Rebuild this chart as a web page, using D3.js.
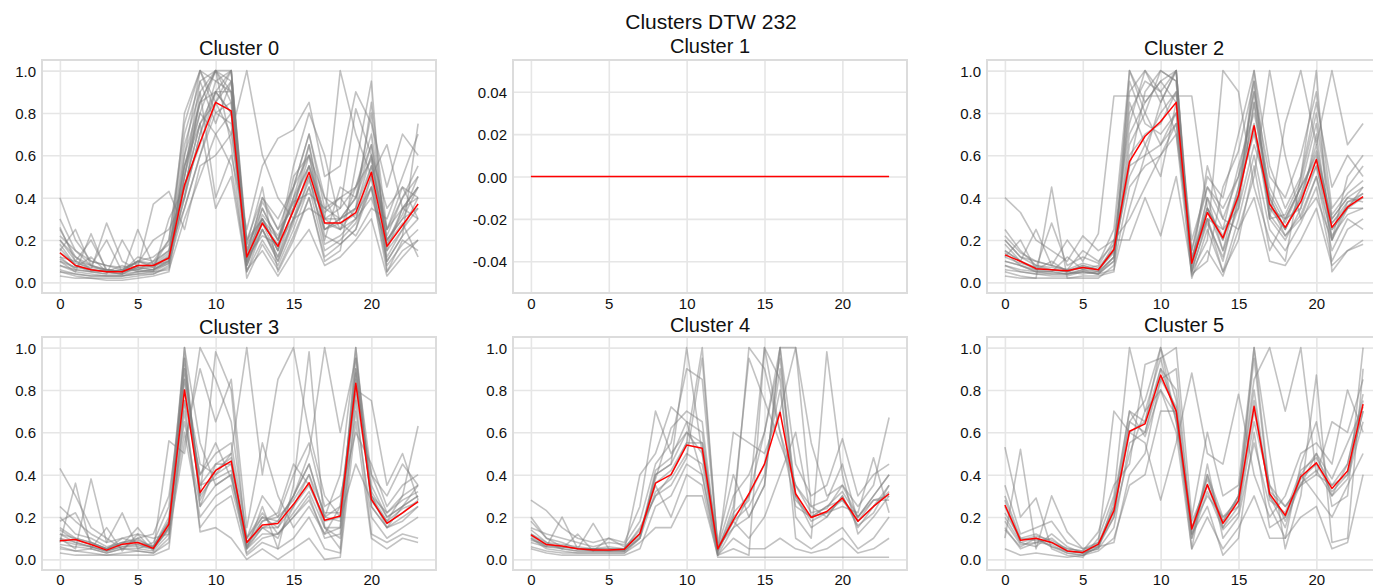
<!DOCTYPE html>
<html>
<head>
<meta charset="utf-8">
<script src="https://cdn.jsdelivr.net/npm/d3@7"></script>
<style>
  html, body { margin: 0; padding: 0; background: #fff; }
  svg { display: block; font-family: 'Liberation Sans', Arial, Helvetica, sans-serif; }
</style>
</head>
<body>
<svg id="chart" width="1373" height="585"></svg>
<script>
// Hourly profile per cluster: grey = member series, red = cluster mean.
const HOURS = [0, 1, 2, 3, 4, 5, 6, 7, 8, 9, 10, 11, 12, 13, 14, 15, 16, 17, 18, 19, 20, 21, 22, 23];
const X_TICKS = [0, 5, 10, 15, 20];
const Y_TICKS = [0, 0.2, 0.4, 0.6, 0.8, 1.0];
const Y_TICK_LABELS = ['0.0', '0.2', '0.4', '0.6', '0.8', '1.0'];
const EMPTY_Y_TICKS = [-0.04, -0.02, 0, 0.02, 0.04];
const EMPTY_Y_TICK_LABELS = ['-0.04', '-0.02', '0.00', '0.02', '0.04'];
const CLUSTER_NAMES = ['Cluster 0', 'Cluster 1', 'Cluster 2', 'Cluster 3', 'Cluster 4', 'Cluster 5'];
const SUPTITLE = 'Clusters DTW 232';

const MEAN_0 = [0.14, 0.08, 0.06, 0.05, 0.05, 0.08, 0.08, 0.115, 0.46, 0.66, 0.85, 0.81, 0.12, 0.28, 0.17, 0.34, 0.52, 0.28, 0.28, 0.33, 0.52, 0.17, 0.27, 0.37];
const MEAN_1 = [0, 0, 0, 0, 0, 0, 0, 0, 0, 0, 0, 0, 0, 0, 0, 0, 0, 0, 0, 0, 0, 0, 0, 0];
const MEAN_2 = [0.13, 0.10, 0.065, 0.06, 0.055, 0.07, 0.06, 0.155, 0.57, 0.69, 0.76, 0.85, 0.09, 0.33, 0.21, 0.41, 0.74, 0.37, 0.26, 0.38, 0.58, 0.26, 0.355, 0.405];
const MEAN_3 = [0.088, 0.094, 0.07, 0.044, 0.072, 0.08, 0.052, 0.166, 0.80, 0.315, 0.42, 0.464, 0.08, 0.163, 0.17, 0.26, 0.362, 0.185, 0.205, 0.832, 0.284, 0.17, 0.22, 0.273];
const MEAN_4 = [0.116, 0.07, 0.063, 0.05, 0.045, 0.045, 0.048, 0.122, 0.36, 0.40, 0.54, 0.525, 0.05, 0.185, 0.31, 0.45, 0.695, 0.31, 0.198, 0.226, 0.29, 0.18, 0.25, 0.31];
const MEAN_5 = [0.257, 0.09, 0.10, 0.08, 0.04, 0.033, 0.072, 0.23, 0.605, 0.64, 0.87, 0.70, 0.143, 0.354, 0.17, 0.276, 0.723, 0.31, 0.208, 0.39, 0.456, 0.335, 0.417, 0.733];

const MEMBERS_0 = [
  [0.10, 0.05, 0.04, 0.03, 0.03, 0.05, 0.06, 0.10, 0.55, 0.85, 1.00, 0.90, 0.10, 0.25, 0.12, 0.30, 0.55, 0.25, 0.30, 0.35, 0.60, 0.12, 0.25, 0.40],
  [0.20, 0.10, 0.06, 0.05, 0.04, 0.08, 0.07, 0.12, 0.40, 0.70, 0.95, 1.00, 0.15, 0.35, 0.20, 0.40, 0.65, 0.30, 0.25, 0.30, 0.55, 0.20, 0.30, 0.35],
  [0.05, 0.03, 0.02, 0.02, 0.02, 0.03, 0.04, 0.08, 0.60, 1.00, 0.80, 0.75, 0.05, 0.20, 0.08, 0.25, 0.45, 0.15, 0.20, 0.28, 0.45, 0.08, 0.18, 0.25],
  [0.40, 0.20, 0.10, 0.08, 0.06, 0.10, 0.09, 0.15, 0.35, 0.60, 0.85, 0.70, 0.20, 0.40, 0.30, 0.45, 0.70, 0.40, 0.35, 0.45, 0.65, 0.25, 0.40, 0.55],
  [0.15, 0.25, 0.08, 0.20, 0.05, 0.12, 0.10, 0.20, 0.70, 0.95, 0.75, 0.95, 0.08, 0.30, 0.15, 0.35, 0.50, 0.20, 0.45, 0.40, 0.80, 0.15, 0.35, 0.30],
  [0.08, 0.05, 0.23, 0.05, 0.04, 0.25, 0.08, 0.10, 0.50, 0.80, 1.00, 0.85, 0.12, 0.22, 0.18, 0.55, 0.80, 0.60, 0.28, 0.22, 0.35, 0.30, 0.50, 0.70],
  [0.25, 0.12, 0.06, 0.28, 0.10, 0.06, 0.05, 0.30, 0.45, 0.65, 0.90, 1.00, 0.18, 0.45, 0.05, 0.20, 0.40, 0.10, 0.15, 0.55, 0.95, 0.05, 0.20, 0.15],
  [0.12, 0.06, 0.05, 0.04, 0.20, 0.07, 0.37, 0.43, 0.25, 0.55, 0.60, 0.70, 1.00, 0.60, 0.40, 0.30, 0.35, 0.30, 1.00, 0.70, 0.50, 0.65, 0.35, 0.45],
  [0.06, 0.04, 0.03, 0.03, 0.03, 0.04, 0.05, 0.06, 0.30, 0.50, 0.70, 0.55, 0.06, 0.15, 0.03, 0.15, 0.25, 0.08, 0.12, 0.20, 0.30, 0.03, 0.12, 0.20],
  [0.18, 0.08, 0.05, 0.06, 0.05, 0.06, 0.10, 0.15, 0.65, 0.90, 0.40, 0.60, 0.25, 0.55, 0.68, 0.72, 0.85, 0.50, 0.55, 0.90, 0.75, 0.45, 0.70, 0.60],
  [0.10, 0.07, 0.12, 0.05, 0.08, 0.05, 0.06, 0.09, 0.80, 1.00, 0.95, 0.90, 0.08, 0.28, 0.12, 0.35, 0.60, 0.22, 0.18, 0.25, 0.50, 0.10, 0.22, 0.75],
  [0.03, 0.02, 0.02, 0.01, 0.01, 0.02, 0.03, 0.05, 0.45, 0.75, 0.90, 0.80, 0.10, 0.32, 0.22, 0.38, 0.42, 0.35, 0.40, 0.30, 0.40, 0.18, 0.28, 0.12],
  [0.22, 0.15, 0.10, 0.08, 0.07, 0.09, 0.20, 0.25, 0.40, 0.90, 1.00, 0.95, 0.15, 0.38, 0.25, 0.45, 0.60, 0.28, 0.25, 0.45, 0.70, 0.22, 0.40, 0.50],
  [0.14, 0.09, 0.07, 0.06, 0.05, 0.10, 0.08, 0.12, 0.55, 0.75, 0.35, 0.50, 0.05, 0.25, 0.10, 0.30, 0.48, 0.30, 0.35, 0.82, 0.60, 0.35, 0.45, 0.30],
  [0.30, 0.15, 0.08, 0.06, 0.05, 0.07, 0.06, 0.10, 0.50, 0.85, 1.00, 1.00, 0.20, 0.30, 0.15, 0.45, 0.70, 0.35, 0.30, 0.40, 0.65, 0.18, 0.35, 0.45],
  [0.08, 0.06, 0.05, 0.04, 0.04, 0.05, 0.05, 0.09, 0.35, 0.60, 0.80, 0.85, 0.08, 0.25, 0.10, 0.28, 0.50, 0.18, 0.22, 0.30, 0.50, 0.10, 0.22, 0.30],
  [0.12, 0.10, 0.08, 0.06, 0.05, 0.08, 0.08, 0.14, 0.60, 0.85, 0.90, 0.80, 0.10, 0.35, 0.20, 0.40, 0.55, 0.30, 0.30, 0.35, 0.55, 0.25, 0.35, 0.40],
  [0.16, 0.08, 0.06, 0.05, 0.06, 0.10, 0.12, 0.18, 0.45, 0.75, 0.85, 1.00, 0.12, 0.40, 0.25, 0.35, 0.65, 0.25, 0.30, 0.40, 0.60, 0.20, 0.30, 0.45],
  [0.05, 0.04, 0.03, 0.03, 0.03, 0.04, 0.04, 0.07, 0.50, 0.95, 1.00, 0.65, 0.02, 0.18, 0.06, 0.22, 0.40, 0.12, 0.18, 0.25, 0.45, 0.05, 0.15, 0.20],
  [0.20, 0.12, 0.08, 0.05, 0.06, 0.06, 0.08, 0.20, 0.75, 1.00, 0.85, 0.95, 0.18, 0.30, 0.15, 0.50, 0.60, 0.40, 0.25, 0.35, 0.85, 0.25, 0.45, 0.40],
  [0.11, 0.07, 0.06, 0.05, 0.04, 0.07, 0.06, 0.11, 0.40, 0.70, 0.90, 0.90, 0.12, 0.28, 0.18, 0.30, 0.45, 0.25, 0.28, 0.32, 0.45, 0.15, 0.25, 0.35],
  [0.26, 0.10, 0.20, 0.06, 0.05, 0.10, 0.07, 0.13, 0.55, 0.80, 0.70, 0.80, 0.14, 0.30, 0.20, 0.38, 0.55, 0.33, 0.40, 0.45, 0.58, 0.20, 0.32, 0.50],
];
const MEMBERS_1 = [];
const MEMBERS_2 = [
  [0.10, 0.08, 0.05, 0.04, 0.04, 0.05, 0.04, 0.10, 0.90, 1.00, 0.85, 1.00, 0.05, 0.30, 0.10, 0.40, 0.95, 0.30, 0.20, 0.35, 0.70, 0.20, 0.35, 0.40],
  [0.25, 0.15, 0.08, 0.06, 0.05, 0.08, 0.06, 0.15, 0.60, 0.70, 0.75, 0.90, 0.10, 0.40, 0.25, 0.55, 0.80, 0.45, 0.30, 0.45, 0.60, 0.30, 0.40, 0.45],
  [0.05, 0.03, 0.02, 0.45, 0.02, 0.03, 0.03, 0.05, 1.00, 0.80, 0.65, 0.80, 0.02, 0.25, 0.05, 0.30, 0.60, 0.25, 0.15, 0.28, 0.45, 0.10, 0.25, 0.30],
  [0.40, 0.33, 0.20, 0.15, 0.10, 0.22, 0.15, 0.20, 0.30, 0.45, 0.60, 0.75, 0.15, 0.50, 0.40, 0.70, 1.00, 0.55, 0.35, 0.50, 0.85, 0.45, 0.60, 0.50],
  [0.15, 0.10, 0.25, 0.08, 0.20, 0.10, 0.23, 0.88, 0.88, 0.88, 0.88, 0.88, 0.88, 0.35, 0.20, 0.45, 0.70, 0.40, 0.25, 0.40, 0.55, 0.25, 0.35, 0.35],
  [0.12, 0.20, 0.06, 0.10, 0.05, 0.04, 0.05, 0.12, 0.55, 0.90, 1.00, 0.95, 0.08, 0.55, 0.30, 0.25, 0.50, 1.00, 0.60, 0.30, 0.40, 0.20, 0.50, 0.60],
  [0.08, 0.06, 0.05, 0.05, 0.12, 0.06, 0.08, 0.20, 0.20, 0.40, 0.22, 0.50, 0.05, 0.20, 1.00, 0.90, 0.45, 0.20, 0.10, 0.50, 1.00, 0.05, 0.15, 0.20],
  [0.20, 0.12, 0.10, 0.08, 0.06, 0.15, 0.10, 0.18, 0.75, 1.00, 0.90, 1.00, 0.12, 0.35, 0.15, 0.35, 0.85, 0.30, 0.75, 1.00, 0.65, 1.00, 0.65, 0.75],
  [0.03, 0.02, 0.02, 0.02, 0.02, 0.02, 0.02, 0.08, 0.45, 0.55, 0.60, 0.70, 0.03, 0.15, 0.03, 0.25, 0.40, 0.10, 0.08, 0.20, 0.35, 0.08, 0.15, 0.18],
  [0.18, 0.10, 0.07, 0.28, 0.08, 0.12, 0.09, 0.25, 1.00, 0.85, 0.95, 0.85, 0.20, 0.45, 0.35, 0.50, 0.90, 0.50, 0.40, 0.60, 0.90, 0.35, 0.45, 0.55],
  [0.06, 0.05, 0.04, 0.03, 0.03, 0.05, 0.04, 0.06, 0.35, 0.60, 0.85, 1.00, 0.04, 0.10, 0.45, 0.62, 0.95, 0.32, 0.22, 0.32, 0.50, 0.15, 0.30, 0.25],
  [0.14, 0.08, 0.05, 0.05, 0.04, 0.06, 0.04, 0.12, 0.85, 0.65, 0.50, 0.85, 0.10, 0.30, 0.05, 0.20, 0.55, 0.15, 0.30, 0.45, 0.58, 0.28, 0.38, 0.42],
  [0.15, 0.10, 0.06, 0.05, 0.04, 0.06, 0.05, 0.12, 0.70, 0.85, 0.95, 1.00, 0.08, 0.35, 0.20, 0.40, 0.85, 0.40, 0.25, 0.40, 0.65, 0.25, 0.35, 0.45],
  [0.10, 0.08, 0.06, 0.06, 0.05, 0.08, 0.06, 0.15, 0.50, 0.65, 0.80, 0.90, 0.05, 0.40, 0.15, 0.45, 0.90, 0.35, 0.30, 0.35, 0.55, 0.20, 0.38, 0.40],
  [0.20, 0.12, 0.08, 0.07, 0.06, 0.07, 0.05, 0.18, 0.95, 0.75, 0.70, 0.80, 0.12, 0.30, 0.25, 0.35, 0.65, 0.42, 0.28, 0.45, 0.75, 0.30, 0.40, 0.38],
  [0.08, 0.05, 0.04, 0.04, 0.04, 0.05, 0.04, 0.10, 0.65, 0.80, 1.00, 0.95, 0.06, 0.28, 0.12, 0.38, 1.00, 0.38, 0.22, 0.30, 0.50, 0.22, 0.32, 0.35],
  [0.12, 0.09, 0.07, 0.06, 0.05, 0.07, 0.06, 0.14, 0.55, 0.60, 0.65, 0.75, 0.10, 0.35, 0.22, 0.42, 0.72, 0.35, 0.25, 0.42, 0.62, 0.28, 0.36, 0.42],
  [0.22, 0.14, 0.10, 0.08, 0.06, 0.09, 0.07, 0.16, 0.80, 0.95, 0.90, 0.70, 0.15, 0.45, 0.30, 0.50, 0.75, 0.30, 0.32, 0.48, 0.80, 0.32, 0.42, 0.48],
];
const MEMBERS_3 = [
  [0.05, 0.04, 0.03, 0.02, 0.03, 0.04, 0.03, 0.10, 1.00, 0.25, 0.35, 0.40, 0.03, 0.10, 0.12, 0.20, 0.30, 0.10, 0.12, 1.00, 0.25, 0.15, 0.20, 0.25],
  [0.15, 0.10, 0.08, 0.05, 0.10, 0.08, 0.06, 0.20, 0.80, 0.40, 0.50, 0.55, 0.10, 0.20, 0.18, 0.30, 0.45, 0.20, 0.25, 0.85, 0.35, 0.20, 0.25, 0.30],
  [0.43, 0.30, 0.15, 0.10, 0.05, 0.10, 0.05, 0.15, 0.60, 0.20, 0.30, 0.35, 0.05, 0.15, 0.10, 0.25, 0.40, 0.15, 0.10, 0.70, 0.20, 0.10, 0.15, 0.20],
  [0.08, 0.36, 0.05, 0.15, 0.04, 0.12, 0.04, 0.56, 0.50, 1.00, 0.85, 0.65, 0.10, 0.30, 0.20, 0.40, 0.55, 0.25, 0.30, 0.60, 0.45, 0.25, 0.35, 0.40],
  [0.10, 0.05, 0.38, 0.08, 0.22, 0.05, 0.08, 0.25, 0.95, 0.30, 0.98, 0.80, 0.05, 0.25, 0.05, 0.35, 0.98, 0.15, 0.05, 0.90, 0.30, 0.15, 0.25, 0.35],
  [0.03, 0.02, 0.02, 0.02, 0.02, 0.02, 0.02, 0.05, 0.70, 0.15, 0.25, 0.30, 0.02, 0.08, 0.05, 0.10, 0.20, 0.05, 0.03, 0.75, 0.12, 0.08, 0.12, 0.10],
  [0.20, 0.12, 0.10, 0.06, 0.08, 0.10, 0.12, 0.30, 0.85, 0.45, 0.40, 0.50, 1.00, 0.40, 0.85, 1.00, 0.60, 0.30, 0.20, 0.45, 0.28, 0.18, 0.30, 0.63],
  [0.12, 0.08, 0.06, 0.04, 0.06, 0.06, 0.05, 0.15, 0.90, 0.35, 0.45, 0.45, 0.08, 0.20, 0.15, 0.30, 0.50, 1.00, 0.60, 0.95, 0.40, 0.30, 0.45, 0.35],
  [0.25, 0.18, 0.12, 0.08, 0.10, 0.12, 0.10, 0.12, 0.55, 0.90, 0.65, 0.85, 0.15, 0.55, 0.30, 0.15, 0.25, 0.12, 0.15, 0.80, 0.75, 0.35, 0.50, 0.28],
  [0.06, 0.04, 0.05, 0.03, 0.05, 0.04, 0.03, 0.08, 0.75, 0.13, 0.15, 0.10, 0.00, 0.05, 0.00, 0.05, 0.10, 0.00, 0.01, 0.65, 0.10, 0.05, 0.10, 0.08],
  [0.18, 0.22, 0.08, 0.05, 0.07, 0.15, 0.06, 0.18, 1.00, 0.55, 0.35, 0.40, 0.06, 0.18, 0.22, 0.45, 0.35, 0.20, 0.40, 1.00, 0.30, 0.22, 0.28, 0.32],
  [0.10, 0.08, 0.06, 0.04, 0.06, 0.07, 0.05, 0.15, 0.85, 0.30, 0.40, 0.45, 0.08, 0.15, 0.15, 0.25, 0.35, 0.18, 0.20, 0.90, 0.28, 0.17, 0.22, 0.28],
  [0.07, 0.06, 0.05, 0.03, 0.05, 0.05, 0.04, 0.12, 0.90, 0.35, 0.38, 0.42, 0.05, 0.12, 0.12, 0.22, 0.32, 0.15, 0.15, 0.95, 0.25, 0.15, 0.18, 0.25],
  [0.12, 0.10, 0.08, 0.05, 0.08, 0.09, 0.06, 0.18, 0.65, 0.25, 0.45, 0.50, 0.07, 0.18, 0.20, 0.28, 0.40, 0.22, 0.22, 0.78, 0.32, 0.20, 0.25, 0.30],
  [0.09, 0.07, 0.06, 0.04, 0.07, 0.07, 0.05, 0.14, 0.95, 0.28, 0.42, 0.48, 0.06, 0.15, 0.18, 0.30, 0.45, 0.20, 0.18, 0.88, 0.30, 0.18, 0.24, 0.27],
  [0.14, 0.09, 0.07, 0.05, 0.08, 0.08, 0.06, 0.17, 0.75, 0.40, 0.55, 0.38, 0.10, 0.22, 0.12, 0.20, 0.28, 0.12, 0.25, 0.82, 0.40, 0.22, 0.30, 0.35],
];
const MEMBERS_4 = [
  [0.10, 0.05, 0.04, 0.03, 0.03, 0.03, 0.03, 0.10, 0.40, 0.45, 1.00, 0.50, 0.02, 0.15, 0.30, 0.60, 0.95, 0.30, 0.15, 0.20, 0.30, 0.15, 0.25, 0.35],
  [0.20, 0.10, 0.08, 0.05, 0.05, 0.06, 0.05, 0.15, 0.30, 0.40, 0.55, 1.00, 0.05, 0.20, 1.00, 0.90, 0.60, 0.25, 0.20, 0.25, 0.28, 0.20, 0.30, 0.40],
  [0.05, 0.03, 0.02, 0.02, 0.02, 0.02, 0.02, 0.05, 0.25, 0.30, 0.45, 0.40, 0.02, 0.05, 0.02, 1.00, 0.85, 0.10, 0.05, 0.10, 0.15, 0.05, 0.10, 0.20],
  [0.28, 0.23, 0.15, 0.10, 0.08, 0.10, 0.08, 0.25, 0.70, 0.50, 0.60, 0.55, 0.08, 0.40, 0.20, 0.35, 1.00, 0.45, 0.30, 0.35, 0.57, 0.30, 0.40, 0.45],
  [0.08, 0.06, 0.20, 0.05, 0.17, 0.05, 0.04, 0.40, 0.50, 0.72, 0.65, 0.60, 0.03, 0.60, 0.55, 0.50, 0.70, 1.00, 0.55, 0.30, 0.35, 0.25, 0.35, 0.67],
  [0.12, 0.08, 0.05, 0.12, 0.04, 0.10, 0.06, 0.12, 0.35, 0.20, 0.40, 0.35, 0.01, 0.01, 0.01, 0.01, 0.01, 0.01, 0.01, 0.01, 0.01, 0.01, 0.01, 0.01],
  [0.15, 0.12, 0.10, 0.08, 0.06, 0.08, 0.07, 0.18, 0.45, 0.55, 0.90, 0.85, 0.06, 0.30, 0.40, 0.60, 1.00, 0.20, 0.10, 0.98, 0.40, 0.12, 0.20, 0.30],
  [0.06, 0.04, 0.03, 0.03, 0.03, 0.03, 0.03, 0.08, 0.15, 0.15, 0.30, 0.30, 0.02, 0.10, 0.05, 0.05, 0.10, 0.05, 0.03, 0.05, 0.10, 0.03, 0.05, 0.10],
  [0.18, 0.10, 0.06, 0.05, 0.05, 0.05, 0.05, 0.12, 0.38, 0.62, 0.70, 0.65, 0.04, 0.25, 0.95, 0.75, 0.55, 0.35, 0.25, 0.28, 0.45, 0.18, 0.28, 0.28],
  [0.09, 0.07, 0.05, 0.04, 0.04, 0.04, 0.04, 0.10, 0.32, 0.38, 0.50, 0.45, 0.05, 0.18, 0.10, 0.20, 0.40, 0.60, 0.20, 0.22, 0.25, 0.22, 0.48, 0.22],
  [0.12, 0.07, 0.06, 0.05, 0.04, 0.04, 0.05, 0.12, 0.36, 0.42, 0.55, 0.55, 0.04, 0.18, 0.25, 0.40, 0.90, 0.30, 0.18, 0.22, 0.28, 0.18, 0.25, 0.32],
  [0.10, 0.06, 0.05, 0.04, 0.04, 0.04, 0.04, 0.10, 0.40, 0.45, 0.60, 0.50, 0.05, 0.22, 0.30, 0.45, 0.80, 0.28, 0.20, 0.25, 0.32, 0.20, 0.28, 0.30],
  [0.14, 0.08, 0.07, 0.06, 0.05, 0.05, 0.05, 0.14, 0.30, 0.35, 0.48, 0.95, 0.06, 0.15, 0.20, 0.35, 1.00, 1.00, 0.25, 0.20, 0.30, 0.16, 0.22, 0.35],
  [0.11, 0.06, 0.06, 0.05, 0.05, 0.04, 0.04, 0.11, 0.42, 0.48, 0.65, 0.40, 0.03, 0.20, 0.28, 1.00, 0.60, 0.35, 0.22, 0.24, 0.35, 0.20, 0.30, 0.40],
];
const MEMBERS_5 = [
  [0.25, 0.08, 0.10, 0.06, 0.03, 0.02, 0.06, 0.25, 0.70, 0.65, 1.00, 0.75, 0.10, 0.40, 0.15, 0.30, 0.95, 0.30, 0.15, 0.40, 0.50, 0.30, 0.45, 0.75],
  [0.15, 0.05, 0.08, 0.10, 0.04, 0.03, 0.05, 0.15, 0.55, 0.60, 0.90, 0.80, 0.15, 0.30, 0.20, 0.25, 0.70, 0.35, 0.25, 0.35, 0.40, 0.35, 0.40, 0.70],
  [0.53, 0.20, 0.29, 0.05, 0.02, 0.01, 0.10, 0.30, 1.00, 0.70, 0.80, 0.60, 0.05, 0.45, 0.10, 0.20, 0.55, 0.25, 0.10, 0.45, 0.65, 0.25, 0.30, 1.00],
  [0.10, 0.52, 0.05, 0.30, 0.13, 0.05, 0.08, 0.70, 0.60, 0.55, 0.28, 0.55, 0.88, 0.50, 0.45, 0.78, 0.40, 0.20, 0.30, 0.50, 0.55, 0.45, 0.80, 0.60],
  [0.30, 0.10, 0.12, 0.08, 0.05, 0.04, 0.13, 0.35, 0.45, 0.92, 0.95, 1.00, 0.20, 0.60, 0.30, 0.35, 1.00, 0.50, 0.05, 0.30, 0.87, 0.08, 0.10, 0.90],
  [0.05, 0.02, 0.03, 0.02, 0.01, 0.02, 0.04, 0.10, 0.35, 0.40, 0.70, 0.70, 0.05, 0.20, 0.05, 0.15, 0.30, 0.10, 0.10, 0.20, 0.25, 0.05, 0.08, 0.40],
  [0.20, 0.08, 0.06, 0.12, 0.06, 0.03, 0.07, 0.20, 0.65, 0.75, 1.00, 0.65, 0.18, 0.35, 0.18, 0.30, 0.85, 1.00, 0.70, 1.00, 0.40, 0.65, 0.60, 0.85],
  [0.35, 0.12, 0.15, 0.18, 0.08, 0.05, 0.06, 0.08, 0.40, 0.50, 0.85, 0.90, 0.12, 0.25, 0.02, 0.10, 0.60, 0.15, 0.20, 0.40, 0.30, 0.20, 0.35, 0.50],
  [0.22, 0.10, 0.09, 0.08, 0.04, 0.03, 0.07, 0.22, 0.60, 0.65, 0.90, 0.70, 0.12, 0.35, 0.15, 0.25, 0.75, 0.30, 0.20, 0.38, 0.45, 0.32, 0.40, 0.70],
  [0.28, 0.09, 0.11, 0.09, 0.05, 0.04, 0.08, 0.25, 0.65, 0.60, 0.85, 0.72, 0.15, 0.38, 0.18, 0.30, 0.80, 0.28, 0.22, 0.42, 0.48, 0.35, 0.45, 0.78],
  [0.18, 0.07, 0.08, 0.07, 0.03, 0.02, 0.06, 0.20, 0.50, 0.70, 0.95, 0.65, 0.10, 0.32, 0.14, 0.22, 0.65, 0.35, 0.18, 0.36, 0.42, 0.30, 0.38, 0.65],
  [0.14, 0.06, 0.10, 0.06, 0.04, 0.03, 0.05, 0.28, 0.70, 0.58, 0.80, 0.68, 0.14, 0.40, 0.20, 0.28, 1.00, 0.32, 0.25, 0.35, 0.50, 0.38, 0.55, 0.72],
];

const MEANS = [MEAN_0, MEAN_1, MEAN_2, MEAN_3, MEAN_4, MEAN_5];
const MEMBERS = [MEMBERS_0, MEMBERS_1, MEMBERS_2, MEMBERS_3, MEMBERS_4, MEMBERS_5];

// Subplot boxes in page pixels (matplotlib 2x3 grid, right column is cut by the page edge).
const COL_X = [42, 513, 987];
const PANEL_W = 394;
const ROW_Y = [60, 337];
const PANEL_H = 233;
const TITLE_BASELINE = [55, 53, 55, 334, 331.5, 331.5];

const GRID = '#e6e6e6';
const FRAME = '#dcdcdc';

const svg = d3.select('#chart');
svg.append('rect').attr('width', 1373).attr('height', 585).attr('fill', '#fff');

svg
  .append('text')
  .attr('x', 711)
  .attr('y', 29)
  .attr('text-anchor', 'middle')
  .attr('fill', '#111')
  .style('font-size', '21px')
  .text(SUPTITLE);

CLUSTER_NAMES.forEach((name, i) => {
  const col = i % 3;
  const row = Math.floor(i / 3);
  const x0 = COL_X[col];
  const y0 = ROW_Y[row];
  const empty = MEMBERS[i].length === 0;

  const x = d3.scaleLinear().domain([-1.15, 24.15]).range([x0, x0 + PANEL_W]);
  const y = d3
    .scaleLinear()
    .domain(empty ? [-0.055, 0.055] : [-0.05, 1.05])
    .range([y0 + PANEL_H, y0]);
  const yTicks = empty ? EMPTY_Y_TICKS : Y_TICKS;
  const yLabels = empty ? EMPTY_Y_TICK_LABELS : Y_TICK_LABELS;

  const g = svg.append('g').attr('class', 'panel');

  // grid + tick labels
  g.append('g')
    .attr('transform', `translate(0,${y0 + PANEL_H})`)
    .call(d3.axisBottom(x).tickValues(X_TICKS).tickSize(-PANEL_H).tickFormat((d) => d))
    .call((a) => a.select('.domain').remove())
    .call((a) => a.selectAll('.tick line').attr('stroke', GRID).attr('stroke-width', 1.6))
    .call((a) =>
      a
        .selectAll('.tick text')
        .attr('fill', '#111')
        .attr('y', row === 0 ? 10.5 : 9.5)
        .attr('dy', '0')
        .style('font-size', '15px')
        .style('font-family', null)
        .attr('dominant-baseline', 'central')
    );

  g.append('g')
    .attr('transform', `translate(${x0},0)`)
    .call(d3.axisLeft(y).tickValues(yTicks).tickSize(-PANEL_W).tickFormat((d, k) => yLabels[k]))
    .call((a) => a.select('.domain').remove())
    .call((a) => a.selectAll('.tick line').attr('stroke', GRID).attr('stroke-width', 1.6))
    .call((a) =>
      a
        .selectAll('.tick text')
        .attr('fill', '#111')
        .attr('x', -6)
        .attr('dy', '0')
        .style('font-size', '15px')
        .style('font-family', null)
        .attr('dominant-baseline', 'central')
    );

  const line = d3
    .line()
    .x((d, k) => x(HOURS[k]))
    .y((d) => y(d));

  g.append('g')
    .selectAll('path')
    .data(MEMBERS[i])
    .enter()
    .append('path')
    .attr('d', line)
    .attr('fill', 'none')
    .attr('stroke', '#808080')
    .attr('stroke-opacity', 0.48)
    .attr('stroke-width', 1.6)
    .attr('stroke-linejoin', 'round');

  g.append('path')
    .attr('d', line(MEANS[i]))
    .attr('fill', 'none')
    .attr('stroke', '#ff0000')
    .attr('stroke-width', 1.5)
    .attr('stroke-linejoin', 'round');

  g.append('rect')
    .attr('x', x0)
    .attr('y', y0)
    .attr('width', PANEL_W)
    .attr('height', PANEL_H)
    .attr('fill', 'none')
    .attr('stroke', FRAME)
    .attr('stroke-width', 2);

  g.append('text')
    .attr('x', x0 + PANEL_W / 2)
    .attr('y', TITLE_BASELINE[i])
    .attr('text-anchor', 'middle')
    .attr('fill', '#111')
    .style('font-size', '20px')
    .text(name);
});
</script>
</body>
</html>
